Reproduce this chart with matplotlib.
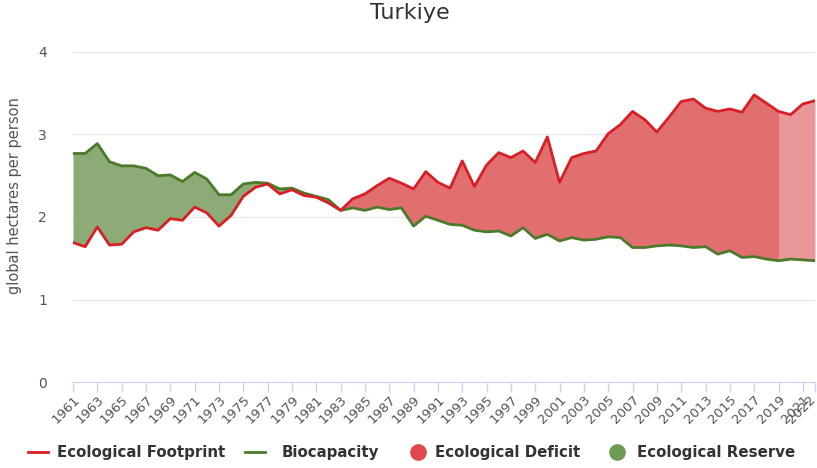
import numpy as np
import matplotlib
matplotlib.use("Agg")
import matplotlib.pyplot as plt
from matplotlib.lines import Line2D
import matplotlib.transforms as mtransforms

years = list(range(1961, 2023))
footprint = [1.69, 1.64, 1.88, 1.66, 1.67, 1.82, 1.87, 1.84, 1.98, 1.96,
             2.12, 2.05, 1.89, 2.02, 2.25, 2.36, 2.40, 2.28, 2.33, 2.26,
             2.24, 2.17, 2.08, 2.22, 2.28, 2.38, 2.47, 2.41, 2.34, 2.55,
             2.42, 2.35, 2.68, 2.37, 2.63, 2.78, 2.72, 2.80, 2.66, 2.97,
             2.42, 2.72, 2.77, 2.80, 3.01, 3.12, 3.28, 3.18, 3.03, 3.21,
             3.40, 3.43, 3.32, 3.28, 3.31, 3.27, 3.48, 3.38, 3.28, 3.24,
             3.37, 3.41]
biocapacity = [2.77, 2.77, 2.89, 2.67, 2.62, 2.62, 2.59, 2.50, 2.51, 2.43,
               2.54, 2.46, 2.27, 2.27, 2.40, 2.42, 2.41, 2.34, 2.35, 2.29,
               2.25, 2.21, 2.08, 2.11, 2.08, 2.12, 2.09, 2.11, 1.89, 2.01,
               1.96, 1.91, 1.90, 1.84, 1.82, 1.83, 1.77, 1.87, 1.74, 1.79,
               1.71, 1.75, 1.72, 1.73, 1.76, 1.75, 1.63, 1.63, 1.65, 1.66,
               1.65, 1.63, 1.64, 1.55, 1.59, 1.51, 1.52, 1.49, 1.47, 1.49,
               1.48, 1.47]
estimate_start = 2019
xtick_years = list(range(1961, 2022, 2)) + [2022]
yticks = [0, 1, 2, 3, 4]

fp_color = "#d81f26"
bc_color = "#4b7a2b"
deficit_color = "#e26f70"
deficit_light = "#ea9799"
reserve_color = "#8dab77"
label_color = "#555555"

W, H = 817, 468
fig = plt.figure(figsize=(W / 100, H / 100), dpi=100)
ax = fig.add_axes([73 / W, 1 - 382 / H, (815 - 73) / W, (382 - 52) / H])

x = np.array(years, dtype=float)
fp = np.array(footprint)
bc = np.array(biocapacity)

ax.fill_between(x, fp, bc, where=(fp >= bc) & (x <= estimate_start), interpolate=True,
                color=deficit_color, linewidth=0, zorder=2)
ax.fill_between(x, fp, bc, where=(fp >= bc) & (x >= estimate_start), interpolate=True,
                color=deficit_light, linewidth=0, zorder=2)
ax.fill_between(x, fp, bc, where=fp <= bc, interpolate=True,
                color=reserve_color, linewidth=0, zorder=2)
ax.plot(x, bc, color=bc_color, lw=2, zorder=3)
ax.plot(x, fp, color=fp_color, lw=2, zorder=4)

ax.set_xlim(1961, 2022)
ax.set_ylim(0, 4)
ax.set_yticks(yticks)
ax.set_yticklabels([str(v) for v in yticks])
ax.set_xticks(xtick_years)
ax.set_xticklabels([str(v) for v in xtick_years], rotation=45, ha="right", va="top",
                   rotation_mode="anchor")
ax.tick_params(axis="x", length=7, color="#ccd6eb", width=1, pad=1,
               labelsize=9.5, labelcolor=label_color)
ax.tick_params(axis="y", length=0, pad=22, labelsize=10, labelcolor=label_color)
for lbl in ax.get_yticklabels():
    lbl.set_horizontalalignment("center")
# keep the last label inside the figure
last = ax.get_xticklabels()[-1]
last.set_transform(last.get_transform() +
                   mtransforms.ScaledTranslation(-6 / 100, 0, fig.dpi_scale_trans))

ax.grid(axis="y", color="#e6e6e6", lw=1, zorder=0)
ax.set_axisbelow(True)
for s in ["top", "right", "left"]:
    ax.spines[s].set_visible(False)
ax.spines["bottom"].set_color("#ccd6eb")
ax.spines["bottom"].set_zorder(5)

fig.text(15 / W, 1 - 196 / H, "global hectares per person", rotation=90,
         ha="center", va="center", fontsize=10.5, color=label_color)
fig.text(410 / W, 1 - 13 / H, "Turkiye", ha="center", va="center",
         fontsize=16, color="#333333")

# legend
ly = 1 - 452 / H
legend_items = [
    ("line", fp_color, 28, "Ecological Footprint", 57),
    ("line", bc_color, 245, "Biocapacity", 282),
    ("dot", "#e0484c", 418, "Ecological Deficit", 435),
    ("dot", "#6f9a54", 617, "Ecological Reserve", 637),
]
for kind, col, sx, text, tx in legend_items:
    if kind == "line":
        fig.add_artist(Line2D([sx / W, (sx + 20) / W], [ly, ly], color=col, lw=2,
                              transform=fig.transFigure))
    else:
        fig.add_artist(Line2D([sx / W], [ly], marker="o", markersize=11, color=col,
                              linestyle="none", transform=fig.transFigure))
    fig.text(tx / W, ly, text, ha="left", va="center", fontsize=10.8,
             fontweight="bold", color="#333333")

fig.savefig("out.png", dpi=100)
